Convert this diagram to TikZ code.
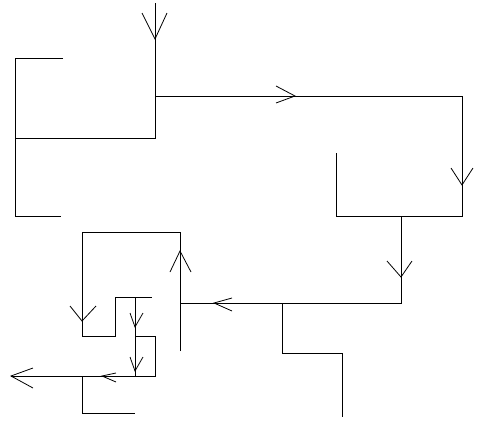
\documentclass[tikz,border=0pt]{standalone}
\begin{document}
\begin{tikzpicture}[x=1pt,y=-1pt,
  wire/.style={line width=1pt,line join=miter},
  vee/.style={line width=0.8pt}]
\useasboundingbox[fill=white] (0,0) rectangle (488,426);
% top-left bracket and top input
\draw[wire] (63,58) -- (15,58) -- (15,216) -- (61,216);
\draw[wire] (15,138) -- (155,138) -- (155,3);
\draw[vee] (142,13) -- (155,39) -- (167,13);
% top horizontal to right
\draw[wire] (155,96) -- (462,96) -- (462,216) -- (336,216) -- (336,153);
\draw[vee] (276,86) -- (295,96) -- (276,103);
\draw[vee] (451,168) -- (462,185) -- (473,168);
% right down
\draw[wire] (401,216) -- (401,303) -- (180,303);
\draw[vee] (387,261) -- (401,277) -- (412,261);
\draw[vee] (232,298) -- (214,303) -- (232,311);
% bottom right step
\draw[wire] (282,303) -- (282,353) -- (342,353) -- (342,417);
% vertical with up arrow
\draw[wire] (180,351) -- (180,232) -- (82,232) -- (82,336) -- (115,336) -- (115,297) -- (152,297);
\draw[vee] (170,272) -- (180,251) -- (191,272);
\draw[vee] (70,306) -- (82,321) -- (96,306);
% inner vertical and box
\draw[wire] (135,297) -- (135,376);
\draw[vee] (130,313) -- (135,327) -- (143,313);
\draw[vee] (130,357) -- (135,371) -- (143,357);
\draw[wire] (135,336) -- (155,336) -- (155,376) -- (11,376);
\draw[vee] (116,373) -- (102,376) -- (116,382);
\draw[vee] (33,368) -- (11,376) -- (33,388);
% bottom left bracket
\draw[wire] (82,376) -- (82,413) -- (135,413);
\end{tikzpicture}
\end{document}
